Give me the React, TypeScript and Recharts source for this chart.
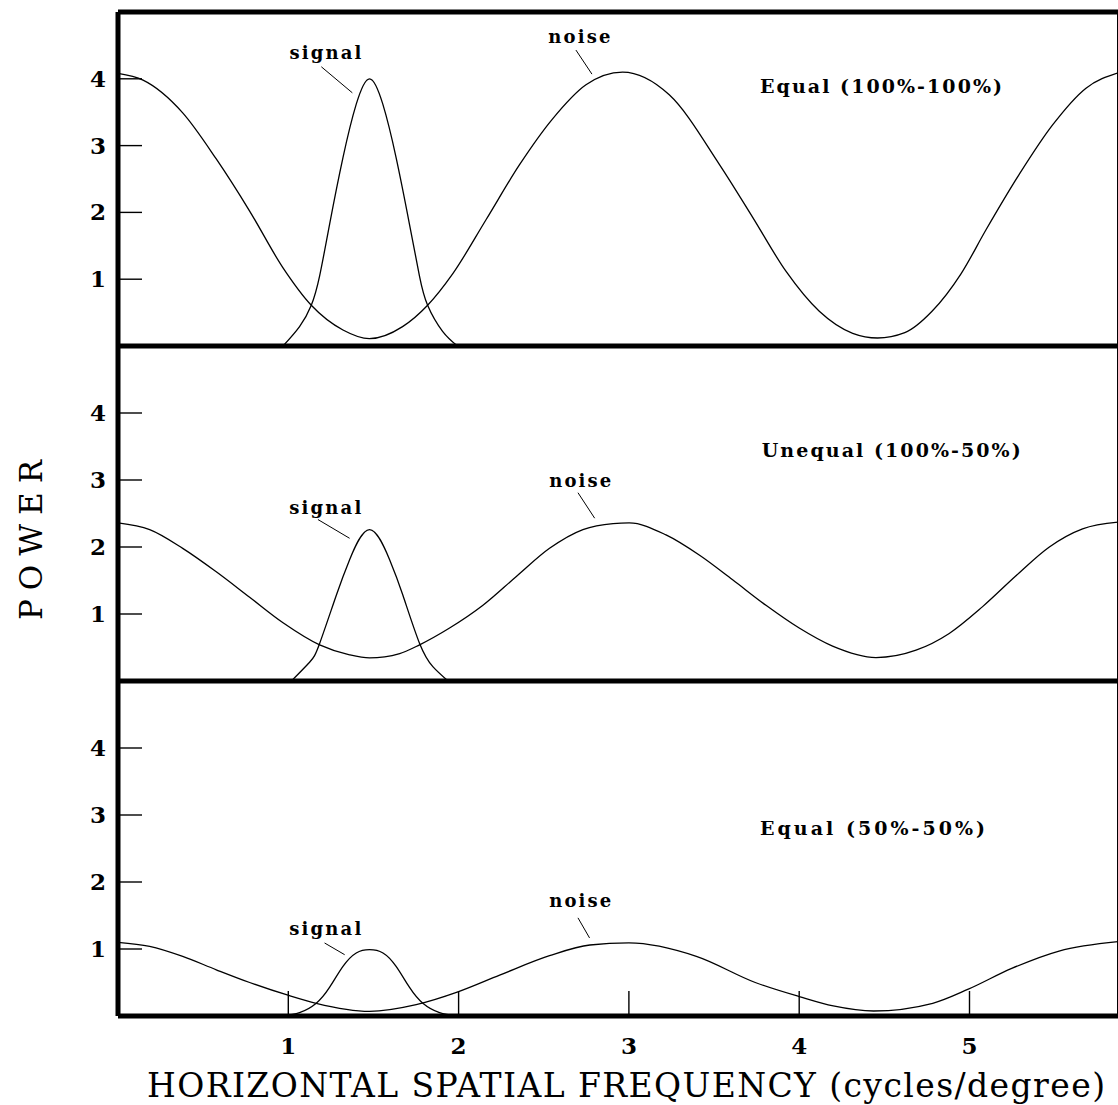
import React from "react";
import { LineChart, Line, XAxis, YAxis, ReferenceLine, ReferenceDot } from "recharts";

const SERIF = "'DejaVu Serif', 'Liberation Serif', serif";
const X_MAX = 5.872;
const Y_TICKS = [1, 2, 3, 4];
const X_TICKS = [1, 2, 3, 4, 5];

// [cycles/degree, power]
const noiseEqualFull: [number, number][] = [
  [0, 4.08], [0.147, 3.98], [0.38, 3.49], [0.577, 2.8], [0.773, 2.02], [0.969, 1.17],
  [1.135, 0.61], [1.321, 0.24], [1.476, 0.11], [1.671, 0.29], [1.818, 0.61], [1.965, 1.08],
  [2.161, 1.89], [2.357, 2.71], [2.552, 3.4], [2.748, 3.91], [2.963, 4.1], [3.237, 3.76],
  [3.531, 2.72], [3.726, 1.93], [3.922, 1.12], [4.118, 0.52], [4.314, 0.19], [4.46, 0.12],
  [4.62, 0.2], [4.78, 0.52], [4.95, 1.08], [5.097, 1.74], [5.292, 2.57], [5.488, 3.31],
  [5.684, 3.86], [5.872, 4.09],
];
const signalEqualFull: [number, number][] = [
  [0.969, 0], [1.066, 0.29], [1.135, 0.61], [1.184, 1.05], [1.243, 1.83], [1.321, 2.82],
  [1.399, 3.62], [1.477, 4.0], [1.555, 3.62], [1.633, 2.82], [1.711, 1.83], [1.77, 1.05],
  [1.818, 0.61], [1.906, 0.22], [1.994, 0],
];

const noiseUnequal: [number, number][] = [
  [0, 2.36], [0.186, 2.26], [0.38, 1.98], [0.577, 1.63], [0.773, 1.25], [0.969, 0.87],
  [1.184, 0.54], [1.36, 0.39], [1.477, 0.345], [1.654, 0.41], [1.771, 0.54], [1.947, 0.79],
  [2.143, 1.13], [2.339, 1.56], [2.534, 1.98], [2.73, 2.26], [2.907, 2.35], [3.002, 2.36],
  [3.218, 2.18], [3.413, 1.88], [3.609, 1.51], [3.805, 1.13], [4.0, 0.79], [4.196, 0.52],
  [4.451, 0.35], [4.686, 0.46], [4.881, 0.71], [5.077, 1.11], [5.273, 1.57], [5.469, 2.0],
  [5.664, 2.27], [5.872, 2.37],
];
const signalUnequal: [number, number][] = [
  [1.018, 0], [1.125, 0.28], [1.184, 0.56], [1.282, 1.28], [1.36, 1.81], [1.477, 2.26],
  [1.595, 1.81], [1.673, 1.28], [1.771, 0.56], [1.85, 0.21], [1.938, 0],
];

const noiseEqualHalf: [number, number][] = [
  [0, 1.1], [0.186, 1.04], [0.38, 0.89], [0.577, 0.69], [0.773, 0.5], [0.998, 0.31],
  [1.164, 0.19], [1.477, 0.07], [1.751, 0.17], [1.996, 0.36], [2.241, 0.61], [2.534, 0.9],
  [2.771, 1.06], [3.0, 1.09], [3.396, 0.89], [3.742, 0.5], [4.0, 0.29], [4.2, 0.15],
  [4.437, 0.075], [4.784, 0.19], [4.993, 0.4], [5.248, 0.71], [5.526, 0.97], [5.872, 1.11],
];
const signalEqualHalf: [number, number][] = [
  [0.969, 0], [1.066, 0.05], [1.164, 0.19], [1.243, 0.43], [1.321, 0.74], [1.399, 0.94],
  [1.477, 0.99], [1.556, 0.94], [1.633, 0.74], [1.711, 0.43], [1.79, 0.19], [1.888, 0.05],
  [1.987, 0],
];

const toPoints = (rows: [number, number][]) => rows.map(([x, y]) => ({ x, y }));

type Note = { x: number; y: number; leader: [number, number, number, number] };

const panels = [
  {
    title: "Equal (100%-100%)",
    titleAt: { x: 3.77, y: 3.78, w: 242 },
    noise: noiseEqualFull,
    signal: signalEqualFull,
    signalNote: { x: 1.218, y: 4.3, leader: [1.194, 4.18, 1.376, 3.79] } as Note,
    noiseNote: { x: 2.709, y: 4.54, leader: [2.689, 4.43, 2.783, 4.07] } as Note,
    top: 0,
    height: 346,
    marginTop: 12,
    showX: false,
  },
  {
    title: "Unequal (100%-50%)",
    titleAt: { x: 3.78, y: 3.34, w: 259 },
    noise: noiseUnequal,
    signal: signalUnequal,
    signalNote: { x: 1.217, y: 2.5, leader: [1.174, 2.41, 1.36, 2.13] } as Note,
    noiseNote: { x: 2.714, y: 2.9, leader: [2.701, 2.81, 2.799, 2.43] } as Note,
    top: 346,
    height: 335,
    marginTop: 0,
    showX: false,
  },
  {
    title: "Equal (50%-50%)",
    titleAt: { x: 3.77, y: 2.7, w: 225 },
    noise: noiseEqualHalf,
    signal: signalEqualHalf,
    signalNote: { x: 1.217, y: 1.21, leader: [1.213, 1.09, 1.331, 0.915] } as Note,
    noiseNote: { x: 2.714, y: 1.62, leader: [2.701, 1.465, 2.769, 1.165] } as Note,
    top: 681,
    height: 335 + 90,
    marginTop: 0,
    showX: true,
  },
];

// ticks sit inside the frame, numbers outside
const PowerTick = (props: any) => {
  const { x, y, payload } = props;
  return (
    <g>
      <line x1={x} x2={x + 24} y1={y} y2={y} stroke="#000" strokeWidth={1.4} />
      <text
        x={x - 12}
        y={y + 8}
        textAnchor="end"
        fontFamily={SERIF}
        fontSize={23}
        fontWeight="bold"
        fill="#000"
      >
        {payload.value}
      </text>
    </g>
  );
};

const FreqTick = (props: any) => {
  const { x, y, payload } = props;
  return (
    <g>
      <line x1={x} x2={x} y1={y} y2={y - 25} stroke="#000" strokeWidth={1.4} />
      <text
        x={x}
        y={y + 38}
        textAnchor="middle"
        fontFamily={SERIF}
        fontSize={23}
        fontWeight="bold"
        fill="#000"
      >
        {payload.value}
      </text>
    </g>
  );
};

const textShape = (label: string, width: number, anchor: "start" | "middle", size = 18) =>
  (p: any) => (
    <text
      x={p.cx}
      y={p.cy}
      textAnchor={anchor}
      fontFamily={SERIF}
      fontSize={size}
      fontWeight="bold"
      fill="#000"
      textLength={width}
      lengthAdjust="spacing"
    >
      {label}
    </text>
  );

function Panel({ cfg }: { cfg: (typeof panels)[number] }) {
  const { signalNote: sn, noiseNote: nn } = cfg;
  return (
    <div style={{ position: "absolute", left: 0, top: cfg.top }}>
      <LineChart
        width={1118}
        height={cfg.height}
        margin={{ top: cfg.marginTop, right: 0, bottom: 0, left: 0 }}
      >
        <XAxis
          type="number"
          dataKey="x"
          domain={[0, X_MAX]}
          allowDataOverflow
          hide={!cfg.showX}
          height={cfg.showX ? 90 : 0}
          ticks={X_TICKS}
          tickSize={0}
          tickMargin={0}
          axisLine={false}
          tick={<FreqTick />}
        />
        <YAxis
          type="number"
          domain={[0, 5]}
          allowDataOverflow
          width={118}
          ticks={Y_TICKS}
          tickSize={0}
          tickMargin={0}
          axisLine={{ stroke: "#000", strokeWidth: 5 }}
          tick={<PowerTick />}
        />
        <ReferenceLine y={0} stroke="#000" strokeWidth={5} />
        <ReferenceLine y={5} stroke="#000" strokeWidth={5} />
        <ReferenceLine x={X_MAX} stroke="#000" strokeWidth={2} />

        {/* noise: flat at its peaks and troughs */}
        <Line
          data={toPoints(cfg.noise)}
          dataKey="y"
          type="monotone"
          stroke="#000"
          strokeWidth={1.3}
          dot={false}
          isAnimationActive={false}
        />
        <Line
          data={toPoints(cfg.signal)}
          dataKey="y"
          type="natural"
          stroke="#000"
          strokeWidth={1.3}
          dot={false}
          isAnimationActive={false}
        />

        <ReferenceLine
          segment={[{ x: sn.leader[0], y: sn.leader[1] }, { x: sn.leader[2], y: sn.leader[3] }]}
          stroke="#000"
          strokeWidth={1}
        />
        <ReferenceLine
          segment={[{ x: nn.leader[0], y: nn.leader[1] }, { x: nn.leader[2], y: nn.leader[3] }]}
          stroke="#000"
          strokeWidth={1}
        />
        <ReferenceDot x={sn.x} y={sn.y} r={0} shape={textShape("signal", 72, "middle")} />
        <ReferenceDot x={nn.x} y={nn.y} r={0} shape={textShape("noise", 62, "middle")} />
        <ReferenceDot
          x={cfg.titleAt.x}
          y={cfg.titleAt.y}
          r={0}
          shape={textShape(cfg.title, cfg.titleAt.w, "start", 19)}
        />
      </LineChart>
    </div>
  );
}

export default function App() {
  return (
    <div
      style={{
        position: "absolute",
        left: 0,
        top: 0,
        width: 1118,
        height: 1105,
        background: "#fff",
        overflow: "hidden",
      }}
    >
      {panels.map((p) => (
        <Panel key={p.title} cfg={p} />
      ))}
      <svg
        width={1118}
        height={1105}
        style={{ position: "absolute", left: 0, top: 0, pointerEvents: "none" }}
      >
        <text
          x={0}
          y={0}
          transform="translate(42 540) rotate(-90)"
          textAnchor="middle"
          fontFamily={SERIF}
          fontSize={31}
          fill="#000"
          textLength={160}
          lengthAdjust="spacing"
        >
          POWER
        </text>
        <text
          x={147}
          y={1097}
          fontFamily={SERIF}
          fontSize={33}
          fill="#000"
          textLength={958}
          lengthAdjust="spacing"
        >
          HORIZONTAL SPATIAL FREQUENCY (cycles/degree)
        </text>
      </svg>
    </div>
  );
}
